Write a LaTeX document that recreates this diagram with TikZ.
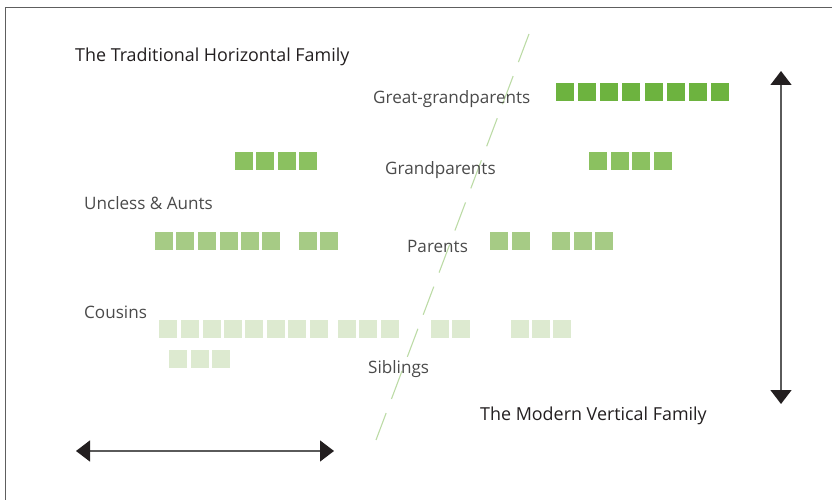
\documentclass[tikz,border=0pt]{standalone}
\usepackage{fontspec}
\setmainfont{Open Sans}
\usetikzlibrary{arrows.meta}
\definecolor{ggreen}{HTML}{6DB33F}
\definecolor{gpgreen}{HTML}{8BC160}
\definecolor{pgreen}{HTML}{A6CB85}
\definecolor{cgreen}{HTML}{DDEAD0}
\definecolor{dashgreen}{HTML}{BCDBA6}
\definecolor{titlecol}{HTML}{231F20}
\definecolor{labelcol}{HTML}{4A4A4A}
\definecolor{framecol}{HTML}{5E5E5E}
\definecolor{arrowline}{HTML}{5A5A5A}
\tikzset{
  title/.style={anchor=base west, inner sep=0pt, text=titlecol, font=\fontsize{17.9bp}{21bp}\selectfont},
  lbl/.style={anchor=base west, inner sep=0pt, text=labelcol, font=\fontsize{17.1bp}{20bp}\selectfont},
  biarrow/.style={draw=arrowline, line width=1.4bp, {Triangle[length=14bp,width=21bp,color=titlecol]}-{Triangle[length=14bp,width=21bp,color=titlecol]}},
  frameline/.style={draw=framecol, line width=1.6bp},
  divider/.style={draw=dashgreen, line width=1.1bp, dash pattern=on 30bp off 15bp},
}
\newcommand{\sqrow}[4]{% color, size, top y, list of x
  \foreach \xx in {#4} {\fill[#1] (\xx,#3) rectangle ++(#2,#2);}
}
\begin{document}
\begin{tikzpicture}[x=1bp,y=-1bp]
\useasboundingbox (0,0) rectangle (832,500);
% frame
\coordinate (fbl) at (5.5,500);
\coordinate (ftl) at (5.5,7.5);
\coordinate (ftr) at (832,7.5);
\draw[frameline] (fbl) -- (ftl) -- (ftr);
% divider
\coordinate (dtop) at (529,34);
\coordinate (dbot) at (376,440);
\draw[divider] (dtop) -- (dbot);
% squares
\sqrow{ggreen}{18}{83}{556,578,600,622,645,667,689,711}
\sqrow{gpgreen}{18}{152}{235,256,278,299}
\sqrow{gpgreen}{18}{152}{589,611,632,654}
\sqrow{pgreen}{18}{232}{155,176,198,220,241,262,299,320}
\sqrow{pgreen}{18}{232}{490,512,552,574,595}
\sqrow{cgreen}{18}{320}{159,181,203,224,245,267,288,310,338,359,381}
\sqrow{cgreen}{18}{350}{169,191,212}
\sqrow{cgreen}{18}{320}{431,452,511,532,553}
% texts
\node[title] (t1) at (75,62) {The Traditional Horizontal Family};
\node[lbl] (lgg) at (373,104) {Great-grandparents};
\node[lbl] (lgp) at (385,175) {Grandparents};
\node[lbl] (lua) at (84,210) {Uncless \& Aunts};
\node[lbl] (lp) at (407,252.7) {Parents};
\node[lbl] (lc) at (84,319) {Cousins};
\node[lbl] (ls) at (368,373) {Siblings};
\node[title] (t2) at (480,420) {The Modern Vertical Family};
% arrows
\coordinate (hl) at (76,451);
\coordinate (hr) at (334,451);
\draw[biarrow] (hl) -- (hr);
\coordinate (vt) at (781,71);
\coordinate (vb) at (781,404);
\draw[biarrow] (vt) -- (vb);
\end{tikzpicture}
\end{document}
